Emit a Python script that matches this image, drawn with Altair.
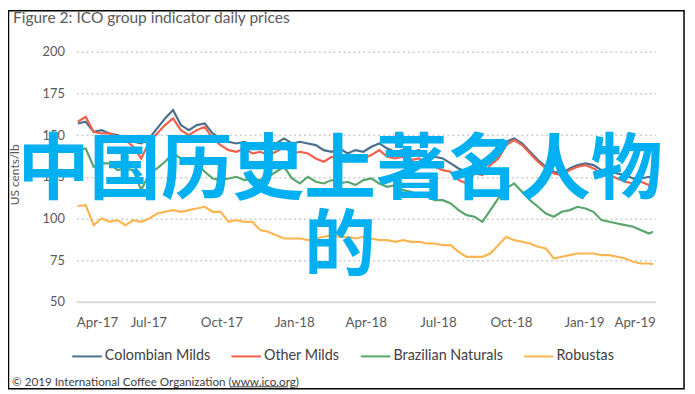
import altair as alt
import pandas as pd

# ---- data (every 10 days) ----
dates = pd.date_range("2017-04-03", periods=73, freq="10D").strftime("%Y-%m-%d").tolist() + ["2019-03-29"]

colombian = [157, 158, 152, 153, 151, 150, 148, 146, 145, 148,
             154, 160, 165, 156, 153, 156, 157, 151, 148, 146,
             145, 146, 144, 145, 143, 145, 148, 145, 146, 145,
             144, 141, 140, 142, 139, 141, 140, 143, 145, 142,
             140, 141, 140, 141, 138, 137, 136, 133, 130, 128,
             133, 131, 136, 140, 146, 148, 145, 140, 135, 131,
             128, 127, 130, 132, 133, 132, 129, 128, 127, 126,
             124, 124, 125, 124]
other = [158, 161, 152, 151, 151, 149, 147, 143, 136, 146,
         151, 156, 160, 153, 150, 153, 155, 148, 144, 141,
         140, 142, 139, 140, 138, 140, 143, 139, 140, 139,
         136, 134, 137, 136, 135, 137, 136, 138, 141, 137,
         136, 137, 135, 136, 133, 131, 129, 128, 123, 121,
         127, 126, 132, 136, 144, 147, 144, 139, 134, 130,
         127, 126, 129, 131, 132, 130, 127, 126, 124, 122,
         121, 122, 120, 122]
brazil = [141, 142, 131, 133, 133, 129, 130, 129, 117, 127,
          130, 134, 139, 136, 134, 133, 128, 124, 123, 124,
          125, 123, 124, 123, 125, 128, 131, 124, 121, 125,
          122, 121, 123, 121, 122, 120, 123, 124, 121, 119,
          120, 117, 116, 114, 113, 111, 111, 109, 105, 102,
          101, 98, 105, 112, 118, 121, 116, 111, 107, 103,
          101, 104, 105, 107, 106, 104, 99, 98, 97, 96,
          95, 93, 91, 92]
robusta = [107.5, 108, 96, 100, 98, 99, 96, 99, 98, 100,
           103, 104, 105, 104, 105, 106, 107, 104, 104, 98,
           99, 98, 98, 93, 92, 90, 88, 88, 88, 87,
           88, 89, 90, 89, 89, 88, 89, 88, 87, 87,
           86, 87, 86, 86, 85, 85, 84, 84, 80, 77,
           77, 77, 79, 84, 89, 87, 86, 85, 83, 82,
           76, 77, 78, 79, 79, 79, 78, 78, 77, 76,
           74, 73, 73, 72.5]

series_names = ["Colombian Milds", "Other Milds", "Brazilian Naturals", "Robustas"]
series_values = [colombian, other, brazil, robusta]
series_colors = ["#4a6f8e", "#f2604b", "#58a66b", "#fdb54f"]
y_ticks = [50, 75, 100, 125, 150, 175, 200]
x_ticks = [(2017, 4), (2017, 7), (2017, 10), (2018, 1), (2018, 4),
           (2018, 7), (2018, 10), (2019, 1), (2019, 4)]

title_text = "Figure 2: ICO group indicator daily prices"
footer_text = "© 2019 International Coffee Organization (www.ico.org)"
overlay_line1 = "中国历史上著名人物"
overlay_line2 = "的"

rows = []
for name, vals in zip(series_names, series_values):
    for d, v in zip(dates, vals):
        rows.append({"date": d, "series": name, "price": v})
df = pd.DataFrame(rows)

FONT = "Lato"
GREY = "#595959"

x_scale = alt.Scale(type="utc",
                    domain=[alt.DateTime(year=2017, month=4, date=1, utc=True),
                            alt.DateTime(year=2019, month=4, date=1, utc=True)])
x_axis = alt.Axis(values=[alt.DateTime(year=y, month=m, date=1, utc=True) for y, m in x_ticks],
                  labelExpr="utcFormat(datum.value, '%b-%y')", title=None, grid=False,
                  ticks=False, tickSize=0,
                  domain=True, domainColor="#d9d9d9", domainWidth=2,
                  labelFont=FONT, labelFontSize=13.5, labelColor=GREY, labelPadding=14)
y_axis = alt.Axis(values=y_ticks, title="US cents/lb", domain=False, ticks=False, tickSize=0,
                  grid=True, gridDash=[2, 3], gridColor="#cccccc", gridWidth=1.5,
                  labelFont=FONT, labelFontSize=13, labelColor=GREY, labelPadding=12,
                  titleFont=FONT, titleFontSize=12, titleFontWeight="normal", titleColor=GREY,
                  titleX=-62, titleY=124, titleAngle=270, titleAlign="center", titleBaseline="middle")

lines = alt.Chart(df).mark_line(strokeWidth=2.2).encode(
    x=alt.X("date:T", scale=x_scale, axis=x_axis),
    y=alt.Y("price:Q", scale=alt.Scale(domain=[50, 200], nice=False, zero=False), axis=y_axis),
    color=alt.Color("series:N",
                    scale=alt.Scale(domain=series_names, range=series_colors),
                    legend=alt.Legend(orient="none", legendX=-5, legendY=292, direction="horizontal",
                                      title=None, symbolType="stroke", symbolSize=900,
                                      symbolStrokeWidth=2, labelFont=FONT, labelFontSize=14.5,
                                      labelColor="#404040", columnPadding=17, labelOffset=2,
                                      padding=0)),
)

one = pd.DataFrame({"k": [0]})

title = alt.Chart(pd.DataFrame({"t": [title_text]})).mark_text(
    align="left", baseline="middle", font=FONT, fontSize=15.7, color=GREY
).encode(text="t:N", x=alt.value(-64), y=alt.value(-34))

footer = alt.Chart(pd.DataFrame({"t": [footer_text]})).mark_text(
    align="left", baseline="middle", font=FONT, fontSize=11.8, color="#404040"
).encode(text="t:N", x=alt.value(-65), y=alt.value(334))

underline = alt.Chart(one).mark_rule(color="#404040", strokeWidth=1).encode(
    x=alt.value(156), x2=alt.value(214), y=alt.value(339)
)

ov1 = alt.Chart(pd.DataFrame({"t": [overlay_line1]})).mark_text(
    align="center", baseline="middle", font="Noto Sans CJK SC", fontWeight="bold",
    fontSize=72.5, color="#00b0f0"
).encode(text="t:N", x=alt.value(267), y=alt.value(121))

ov2 = alt.Chart(pd.DataFrame({"t": [overlay_line2]})).mark_text(
    align="center", baseline="middle", font="Noto Sans CJK SC", fontWeight="bold",
    fontSize=72.5, color="#00b0f0"
).encode(text="t:N", x=alt.value(267), y=alt.value(198))

border = alt.Chart(one).mark_rect(fillOpacity=0, stroke="black", strokeWidth=1.5).encode(
    x=alt.value(-68.5), x2=alt.value(615), y=alt.value(-41.5), y2=alt.value(341)
)

chart = alt.layer(lines, title, footer, underline, ov1, ov2, border).properties(
    width=586, height=253,
    autosize=alt.AutoSizeParams(type="none"),
    padding={"left": 69, "top": 42, "right": 32, "bottom": 91},
).configure_view(stroke=None)

chart.save("out.html", embed_options={"renderer": "svg", "actions": False})
